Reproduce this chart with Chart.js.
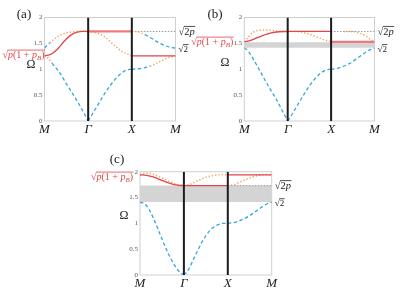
<!DOCTYPE html>
<html>
<head>
<meta charset="utf-8">
<script src="https://cdn.jsdelivr.net/npm/chart.js@4.4.1/dist/chart.umd.min.js"></script>
<style>
  html, body { margin: 0; padding: 0; background: #fff; }
  #wrap { position: relative; width: 410px; height: 290px; }
  #wrap canvas { position: absolute; left: 0; top: 0; }
</style>
</head>
<body>
<div id="wrap">
  <canvas id="ca" width="410" height="290"></canvas>
  <canvas id="cb" width="410" height="290"></canvas>
  <canvas id="cc" width="410" height="290"></canvas>
</div>
<script>
// path M - Γ - X - M, one unit per segment
const kPos = [0, 1, 2, 3];
const kLabels = ['M', 'Γ', 'X', 'M'];
const yTicks = [0, 0.5, 1, 1.5, 2];
const sqrt2p = 1.732;
const sqrt2 = 1.414;
const rootVals = [1.26, 1.53, 1.94]; // sqrt(p(1+pB)) for (a), (b), (c)

// (a)
const aOrangeLow = [[0, 1.26], [0.08, 1.22], [0.17, 1.12]];
const aBlueLow = [[0.17, 1.12], [0.35, 0.93], [0.5, 0.72], [0.65, 0.52], [0.8, 0.31], [0.9, 0.16], [1, 0]];
const aRedMG = [[0, 1.26], [0.15, 1.29], [0.3, 1.39], [0.45, 1.54], [0.6, 1.66], [0.75, 1.715], [0.88, 1.73], [1, 1.73]];
const aBlueUp = [[0, 1.41], [0.06, 1.46], [0.12, 1.51]];
const aOrangeUp = [[0.12, 1.51], [0.2, 1.57], [0.3, 1.63], [0.45, 1.69], [0.6, 1.72], [0.8, 1.735], [1, 1.73]];
const aRedGX = [[1, 1.73], [2, 1.73]];
const aOrangeGX = [[1, 1.73], [1.2, 1.70], [1.4, 1.61], [1.6, 1.46], [1.8, 1.33], [2, 1.26]];
const aBlueGX = [[1, 0], [1.1, 0.14], [1.2, 0.28], [1.3, 0.42], [1.4, 0.56], [1.5, 0.68], [1.6, 0.79], [1.7, 0.88], [1.8, 0.95], [1.9, 0.99], [2, 1]];
const aRedXM = [[2, 1.26], [3, 1.26]];
const aGrayXM = [[2, 1.73], [3, 1.73]];
const aBlueXMlow = [[2, 1], [2.15, 1.01], [2.3, 1.03], [2.42, 1.06]];
const aOrangeXMlow = [[2.42, 1.06], [2.6, 1.13], [2.75, 1.19], [2.9, 1.24], [3, 1.26]];
const aOrangeXMup = [[2, 1.73], [2.15, 1.72], [2.3, 1.67]];
const aBlueXMup = [[2.3, 1.67], [2.45, 1.60], [2.6, 1.52], [2.75, 1.46], [2.9, 1.42], [3, 1.41]];

// (b)
const bBlueMG = [[0, 1.41], [0.08, 1.36], [0.17, 1.25], [0.3, 1.06], [0.45, 0.83], [0.6, 0.61], [0.75, 0.40], [0.9, 0.16], [1, 0]];
const bRedMG = [[0, 1.53], [0.15, 1.56], [0.3, 1.61], [0.45, 1.66], [0.6, 1.70], [0.8, 1.725], [1, 1.73]];
const bOrangeMG = [[0, 1.53], [0.1, 1.63], [0.2, 1.71], [0.3, 1.75], [0.4, 1.76], [0.55, 1.755], [0.7, 1.745], [0.85, 1.735], [1, 1.73]];
const bRedGX = [[1, 1.73], [2, 1.73]];
const bOrangeGX = [[1, 1.73], [1.2, 1.73], [1.35, 1.71], [1.5, 1.68], [1.65, 1.63], [1.8, 1.58], [2, 1.53]];
const bBlueGX = [[1, 0], [1.1, 0.13], [1.2, 0.27], [1.3, 0.41], [1.4, 0.55], [1.5, 0.68], [1.6, 0.79], [1.7, 0.88], [1.8, 0.95], [1.9, 0.99], [2, 1]];
const bRedXM = [[2, 1.53], [3, 1.53]];
const bGrayXM = [[2, 1.73], [3, 1.73]];
const bOrangeXM = [[2.3, 1.73], [2.5, 1.725], [2.65, 1.70], [2.8, 1.64], [2.9, 1.58], [3, 1.53]];
const bBlueXM = [[2, 1], [2.1, 1.01], [2.2, 1.03], [2.35, 1.08], [2.5, 1.15], [2.65, 1.24], [2.8, 1.33], [2.9, 1.38], [3, 1.41]];
const bGap = [1.414, 1.52];

// (c)
const cBlueMG = [[0, 1.41], [0.1, 1.38], [0.2, 1.28], [0.3, 1.11], [0.4, 0.91], [0.5, 0.70], [0.6, 0.50], [0.7, 0.32], [0.8, 0.17], [0.9, 0.06], [1, 0]];
const cRedMG = [[0, 1.94], [0.15, 1.93], [0.3, 1.90], [0.5, 1.83], [0.7, 1.77], [0.85, 1.74], [1, 1.73]];
const cOrangeMG = [[0, 1.94], [0.15, 1.97], [0.3, 1.95], [0.5, 1.88], [0.7, 1.80], [0.85, 1.75], [1, 1.73]];
const cRedGX = [[1, 1.73], [2, 1.73]];
const cOrangeGX = [[1, 1.73], [1.15, 1.76], [1.3, 1.82], [1.5, 1.89], [1.7, 1.93], [1.85, 1.945], [2, 1.94]];
const cBlueGX = [[1, 0], [1.1, 0.10], [1.2, 0.27], [1.3, 0.45], [1.4, 0.62], [1.5, 0.76], [1.6, 0.87], [1.7, 0.94], [1.8, 0.98], [1.9, 1.0], [2, 1]];
const cRedXM = [[2, 1.94], [3, 1.94]];
const cGrayXM = [[2, 1.73], [3, 1.73]];
const cOrangeXM = [[2, 1.73], [2.15, 1.75], [2.3, 1.81], [2.5, 1.88], [2.7, 1.93], [2.85, 1.945], [3, 1.94]];
const cBlueXM = [[2, 1], [2.1, 1.01], [2.2, 1.03], [2.35, 1.08], [2.5, 1.15], [2.65, 1.24], [2.8, 1.33], [2.9, 1.38], [3, 1.41]];
const cGap = [1.414, 1.732];

// vertical lines at Γ and X
const lineGamma = [[1, 0], [1, 2]];
const lineX = [[2, 0], [2, 2]];

const FONT = 'Liberation Serif';
const STYLE = {
  black: { borderColor: '#1c1c1c', borderWidth: 2 },
  blue: { borderColor: '#33a7dc', borderWidth: 1.3, borderDash: [3.5, 2.5] },
  orange: { borderColor: '#f2a25c', borderWidth: 1.5, borderDash: [1.3, 2] },
  red: { borderColor: '#e2454c', borderWidth: 1.3 },
  pink: { borderColor: '#ee7a7e', borderWidth: 2.2 },
  gray: { borderColor: '#9a9a9a', borderWidth: 1, borderDash: [1.5, 1.5] }
};

// draws √(...) with an overline; parts = [text, 'r'|'i'|'s']
function radical(ctx, x, y, parts, size, color, align) {
  const fonts = {
    r: `${size}px ${FONT}`,
    i: `italic ${size}px ${FONT}`,
    s: `italic ${Math.round(size * 0.7)}px ${FONT}`
  };
  ctx.save();
  ctx.textBaseline = 'alphabetic';
  ctx.textAlign = 'left';
  ctx.fillStyle = color;
  ctx.strokeStyle = color;
  ctx.font = fonts.r;
  const rw = ctx.measureText('√').width;
  const widths = parts.map(([t, f]) => { ctx.font = fonts[f]; return ctx.measureText(t).width; });
  const total = rw + widths.reduce((s, w) => s + w, 0);
  let cx = align === 'right' ? x - total : x;
  const base = y + size * 0.33;
  ctx.font = fonts.r;
  ctx.fillText('√', cx, base);
  const barStart = cx + rw - 0.4;
  cx += rw;
  parts.forEach(([t, f], i) => {
    ctx.font = fonts[f];
    ctx.fillText(t, cx, f === 's' ? base + size * 0.2 : base);
    cx += widths[i];
  });
  ctx.lineWidth = 0.8;
  ctx.beginPath();
  ctx.moveTo(barStart, base - size * 0.8);
  ctx.lineTo(cx + 0.5, base - size * 0.8);
  ctx.stroke();
  ctx.restore();
}

const rootParts = [['p', 'i'], ['(1 + ', 'r'], ['p', 'i'], ['B', 's'], [')', 'r']];

const framePlugin = {
  id: 'frame',
  beforeDatasetsDraw(chart) {
    const { ctx, chartArea: a } = chart;
    ctx.save();
    ctx.strokeStyle = '#cfcfcf';
    ctx.lineWidth = 1;
    ctx.strokeRect(a.left, a.top, a.right - a.left, a.bottom - a.top);
    ctx.restore();
  }
};

const textPlugin = {
  id: 'texts',
  afterDraw(chart) {
    const t = chart.options.plugins.texts;
    const { ctx, chartArea: a } = chart;
    const y = chart.scales.y;
    ctx.save();
    ctx.fillStyle = '#222';
    ctx.textAlign = 'center';
    ctx.textBaseline = 'middle';
    ctx.font = `13px ${FONT}`;
    ctx.fillText(t.tag, t.tagX, t.tagY);
    ctx.font = `12px ${FONT}`;
    ctx.fillText('Ω', t.omegaX, t.omegaY);
    ctx.restore();
    radical(ctx, a.left + t.rootDx, y.getPixelForValue(t.root) + t.rootDy, rootParts, 10, '#e2454c', 'right');
    radical(ctx, a.right + 3, y.getPixelForValue(sqrt2p), [['2', 'r'], ['p', 'i']], 10.5, '#222', 'left');
    radical(ctx, a.right + 3, y.getPixelForValue(sqrt2) + 1, [['2', 'r']], 9, '#222', 'left');
  }
};

function buildPanel(id, box, curves, gap, texts) {
  const datasets = curves.map(([style, pts]) => ({
    ...STYLE[style],
    data: pts.map(([x, y]) => ({ x, y })),
    pointRadius: 0,
    fill: false,
    cubicInterpolationMode: 'monotone'
  }));
  if (gap) {
    datasets.push({ data: [{ x: 0, y: gap[0] }, { x: 3, y: gap[0] }], borderWidth: 0, pointRadius: 0, fill: false });
    datasets.push({ data: [{ x: 0, y: gap[1] }, { x: 3, y: gap[1] }], borderWidth: 0, pointRadius: 0, fill: '-1', backgroundColor: '#d4d4d4' });
  }
  return new Chart(document.getElementById(id), {
    type: 'line',
    data: { datasets },
    options: {
      responsive: false,
      animation: false,
      layout: { padding: { left: box.left - 12, right: 410 - box.right, top: box.top, bottom: 290 - box.bottom - 15 } },
      plugins: { legend: { display: false }, tooltip: { enabled: false }, texts },
      scales: {
        x: {
          type: 'linear', min: 0, max: 3,
          afterBuildTicks: s => { s.ticks = kPos.map(v => ({ value: v })); },
          afterFit: s => { s.height = 15; },
          grid: { display: false, drawTicks: false },
          border: { display: false },
          ticks: {
            padding: 1, maxRotation: 0, autoSkip: false, color: '#222',
            font: { family: FONT, size: 13, style: 'italic' },
            callback: (v, i) => kLabels[i]
          }
        },
        y: {
          min: 0, max: 2,
          afterBuildTicks: s => { s.ticks = yTicks.map(v => ({ value: v })); },
          afterFit: s => { s.width = 12; },
          grid: { display: false, drawTicks: false },
          border: { display: false },
          ticks: { padding: 2, color: '#555', font: { family: FONT, size: 7 }, callback: v => String(v) }
        }
      }
    },
    plugins: [framePlugin, textPlugin]
  });
}

buildPanel('ca', { left: 44.5, right: 175.5, top: 17.5, bottom: 121 }, [
  ['black', lineGamma], ['black', lineX],
  ['red', aRedMG], ['pink', aRedGX], ['red', aRedXM],
  ['orange', aOrangeLow], ['blue', aBlueLow],
  ['blue', aBlueUp], ['orange', aOrangeUp],
  ['orange', aOrangeGX], ['blue', aBlueGX],
  ['blue', aBlueXMlow], ['orange', aOrangeXMlow],
  ['orange', aOrangeXMup], ['blue', aBlueXMup],
  ['gray', aGrayXM]
], null, { tag: '(a)', tagX: 24, tagY: 15, omegaX: 31, omegaY: 65, root: rootVals[0], rootDx: 0, rootDy: -1 });

buildPanel('cb', { left: 244.3, right: 374.5, top: 17.5, bottom: 121 }, [
  ['black', lineGamma], ['black', lineX],
  ['red', bRedMG], ['red', bRedGX], ['pink', bRedXM],
  ['orange', bOrangeMG], ['orange', bOrangeGX], ['orange', bOrangeXM],
  ['blue', bBlueMG], ['blue', bBlueGX], ['blue', bBlueXM],
  ['gray', bGrayXM]
], bGap, { tag: '(b)', tagX: 215, tagY: 15, omegaX: 225, omegaY: 63, root: rootVals[1], rootDx: -11, rootDy: 0 });

buildPanel('cc', { left: 140, right: 271.7, top: 171.7, bottom: 275 }, [
  ['black', lineGamma], ['black', lineX],
  ['red', cRedMG], ['red', cRedGX], ['red', cRedXM],
  ['orange', cOrangeMG], ['orange', cOrangeGX], ['orange', cOrangeXM],
  ['blue', cBlueMG], ['blue', cBlueGX], ['blue', cBlueXM],
  ['gray', cGrayXM]
], cGap, { tag: '(c)', tagX: 117, tagY: 160, omegaX: 124, omegaY: 216, root: rootVals[2], rootDx: -7, rootDy: 2 });
</script>
</body>
</html>
